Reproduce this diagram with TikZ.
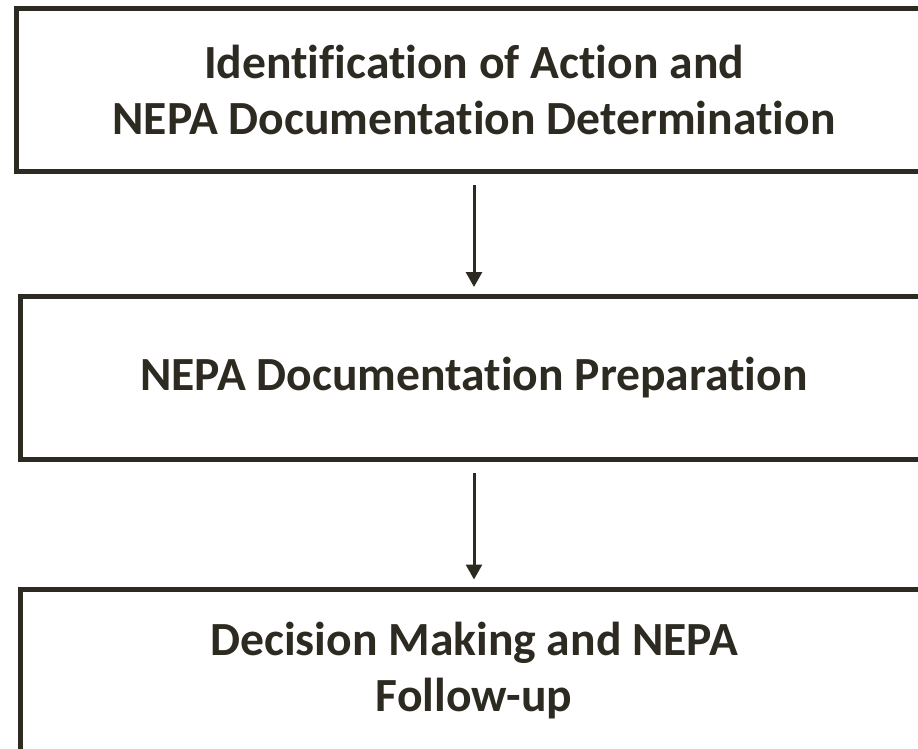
\documentclass[tikz,border=0pt]{standalone}
\usepackage{fontspec}
\setmainfont{Carlito}[Ligatures=NoCommon]
\usetikzlibrary{arrows.meta,positioning}
\definecolor{ink}{RGB}{45,42,33}

\begin{document}
\begin{tikzpicture}[x=1pt, y=-1pt,
    stage/.style={draw=ink, line width=5pt, minimum height=163pt, align=center,
      text=ink, font=\fontsize{47.6}{56.5}\selectfont\bfseries},
    flow/.style={draw=ink, line width=3pt, -{Triangle[length=15pt,width=16pt]}}]
        \useasboundingbox (0,0) rectangle (918,748);
        \node [stage, minimum width=916pt] (ident) at (474,90) {Identification of Action and\\NEPA Documentation Determination};
        \node [stage, minimum width=908pt] (prep) at (474,378) {NEPA Documentation Preparation};
        \node [stage, minimum width=908pt] (decide) at (474,670.5) {Decision Making and NEPA\\Follow-up};
        % arrows between the stages
        \draw [flow, shorten <=11pt, shorten >=7pt] (ident) -- (prep);
        \draw [flow, shorten <=11pt, shorten >=7pt] (prep) -- (decide);
      \end{tikzpicture}
\end{document}
